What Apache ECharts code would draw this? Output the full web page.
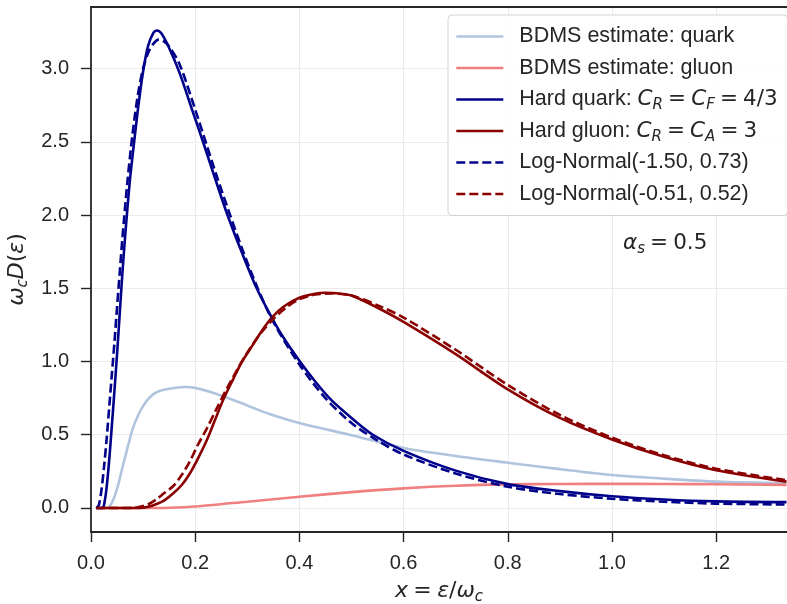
<!DOCTYPE html>
<html>
<head>
<meta charset="utf-8">
<script src="https://cdn.jsdelivr.net/npm/echarts@6/dist/echarts.min.js"></script>
<style>
html,body{margin:0;padding:0;background:#ffffff;}
#chart{width:787px;height:604px;}
</style>
</head>
<body>
<div id="chart"></div>
<script>
// ---- tick labels ----
const xTicks = [0, 0.2, 0.4, 0.6, 0.8, 1.0, 1.2];
const yTicks = [0, 0.5, 1.0, 1.5, 2.0, 2.5, 3.0];

// ---- series names ----
const seriesNames = [
  'BDMS estimate: quark',
  'BDMS estimate: gluon',
  'Hard quark: C_R = C_F = 4/3',
  'Hard gluon: C_R = C_A = 3',
  'Log-Normal(-1.50, 0.73)',
  'Log-Normal(-0.51, 0.52)'
];

// ---- BDMS estimate: quark ----
const bdmsQuarkX = [0.01,0.03,0.04,0.05,0.06,0.07,0.08,0.09,0.10,0.11,0.12,0.13,0.14,0.16,0.18,0.20,0.24,0.30,0.34,0.40,0.50,0.60,0.70,0.80,0.90,1.00,1.10,1.20,1.335];
const bdmsQuarkY = [0,0,0.035,0.13,0.27,0.41,0.54,0.63,0.695,0.745,0.777,0.797,0.807,0.819,0.826,0.82,0.78,0.70,0.645,0.58,0.497,0.41,0.355,0.309,0.265,0.225,0.20,0.18,0.168];

// ---- BDMS estimate: gluon ----
const bdmsGluonX = [0.01,0.10,0.15,0.20,0.30,0.40,0.50,0.60,0.70,0.80,0.90,1.00,1.10,1.20,1.335];
const bdmsGluonY = [0,0,0.002,0.01,0.043,0.077,0.108,0.134,0.152,0.161,0.164,0.165,0.164,0.162,0.158];

// ---- Hard quark ----
const hardQuarkX = [0.01,0.022,0.026,0.03,0.035,0.04,0.045,0.05,0.055,0.06,0.065,0.07,0.075,0.08,0.09,0.10,0.11,0.12,0.126,0.135,0.15,0.17,0.193,0.215,0.24,0.262,0.29,0.318,0.347,0.37,0.401,0.43,0.459,0.50,0.541,0.60,0.70,0.80,0.90,1.00,1.10,1.20,1.335];
const hardQuarkY = [0,0,0.04,0.14,0.33,0.56,0.80,1.05,1.32,1.59,1.83,2.05,2.25,2.41,2.72,2.98,3.16,3.245,3.26,3.24,3.14,2.97,2.73,2.50,2.23,2.00,1.74,1.50,1.30,1.16,1.00,0.865,0.745,0.615,0.50,0.39,0.255,0.163,0.115,0.08,0.058,0.045,0.04];

// ---- Hard gluon ----
const hardGluonX = [0.01,0.094,0.11,0.126,0.14,0.158,0.175,0.19,0.205,0.222,0.238,0.254,0.273,0.29,0.31,0.33,0.347,0.37,0.40,0.43,0.45,0.48,0.50,0.554,0.60,0.70,0.80,0.90,1.00,1.10,1.20,1.335];
const hardGluonY = [0,0,0.008,0.027,0.05,0.10,0.16,0.237,0.335,0.46,0.60,0.74,0.88,1.00,1.11,1.22,1.30,1.375,1.435,1.463,1.469,1.462,1.45,1.36,1.27,1.05,0.81,0.615,0.468,0.35,0.258,0.18];

// ---- Log-Normal(-1.50, 0.73) ----
const lnQuarkX = [0.01,0.015,0.02,0.025,0.03,0.035,0.04,0.045,0.05,0.055,0.06,0.07,0.08,0.09,0.10,0.11,0.12,0.13,0.14,0.15,0.17,0.20,0.22,0.24,0.265,0.29,0.32,0.35,0.40,0.45,0.50,0.55,0.60,0.70,0.80,0.90,1.00,1.10,1.20,1.335];
const lnQuarkY = [0,0.02,0.12,0.28,0.47,0.69,0.91,1.13,1.37,1.60,1.83,2.23,2.56,2.82,3.00,3.11,3.17,3.197,3.185,3.15,3.03,2.72,2.50,2.28,2.02,1.77,1.50,1.27,0.98,0.75,0.58,0.46,0.365,0.235,0.145,0.095,0.063,0.043,0.03,0.024];

// ---- Log-Normal(-0.51, 0.52) ----
const lnGluonX = [0.01,0.07,0.09,0.11,0.126,0.14,0.158,0.175,0.19,0.205,0.222,0.24,0.26,0.28,0.30,0.325,0.35,0.375,0.40,0.43,0.46,0.50,0.554,0.60,0.70,0.80,0.90,1.00,1.10,1.20,1.335];
const lnGluonY = [0,0,0.005,0.025,0.06,0.10,0.15,0.23,0.32,0.43,0.54,0.67,0.81,0.94,1.06,1.19,1.29,1.37,1.425,1.457,1.464,1.45,1.378,1.30,1.08,0.84,0.635,0.48,0.36,0.268,0.19];

function pairs(xs, ys) { return xs.map((x, i) => [x, ys[i]]); }

const TXT = '#262626';
const FS = 21.5;
const LH = 27;
function richStyles(fs) {
  return {
    t: {fontFamily: 'Liberation Sans', fontSize: fs, lineHeight: LH, color: TXT},
    m: {fontFamily: 'DejaVu Sans', fontStyle: 'italic', fontSize: fs, lineHeight: LH, color: TXT},
    e: {fontFamily: 'DejaVu Sans', fontSize: fs, lineHeight: LH, color: TXT},
    w: {fontFamily: 'DejaVu Sans', fontSize: Math.round(fs * 0.75), lineHeight: LH, color: TXT},
    s: {fontFamily: 'DejaVu Sans', fontStyle: 'italic', fontSize: Math.round(fs * 0.7), lineHeight: 13, verticalAlign: 'bottom', color: TXT}
  };
}
const EQ = '{w| }{e|=}{w| }';

const legendLabels = {};
legendLabels[seriesNames[0]] = '{t|BDMS estimate: quark}';
legendLabels[seriesNames[1]] = '{t|BDMS estimate: gluon}';
legendLabels[seriesNames[2]] = '{t|Hard quark: }{m|C}{s|R}' + EQ + '{m|C}{s|F}' + EQ + '{e|4/3}';
legendLabels[seriesNames[3]] = '{t|Hard gluon: }{m|C}{s|R}' + EQ + '{m|C}{s|A}' + EQ + '{e|3}';
legendLabels[seriesNames[4]] = '{t|Log-Normal(-1.50, 0.73)}';
legendLabels[seriesNames[5]] = '{t|Log-Normal(-0.51, 0.52)}';

const colors = ['#b0c4de', '#f08080', '#00008b', '#8b0000', '#00008b', '#8b0000'];
const dataSets = [
  pairs(bdmsQuarkX, bdmsQuarkY),
  pairs(bdmsGluonX, bdmsGluonY),
  pairs(hardQuarkX, hardQuarkY),
  pairs(hardGluonX, hardGluonY),
  pairs(lnQuarkX, lnQuarkY),
  pairs(lnGluonX, lnGluonY)
];
const dashed = [false, false, false, false, true, true];

const axisLineStyle = {color: TXT, width: 1.8};

const chart = echarts.init(document.getElementById('chart'), null, {renderer: 'canvas'});
chart.setOption({
  animation: false,
  backgroundColor: '#ffffff',
  grid: {left: 91, right: 0, top: 7, bottom: 72, containLabel: false, outerBoundsMode: 'none'},
  xAxis: [{
    type: 'value', min: 0, max: 1.336, interval: 0.2,
    position: 'bottom',
    axisLine: {show: true, onZero: false, lineStyle: axisLineStyle},
    axisTick: {show: true, length: 10, customValues: xTicks, lineStyle: {color: TXT, width: 1.4}},
    axisLabel: {customValues: xTicks, margin: 21, color: TXT, fontFamily: 'Liberation Sans', fontSize: 20,
      formatter: v => v.toFixed(1)},
    splitLine: {show: true, lineStyle: {color: '#ebebeb', width: 1}},
    name: '{m|x}' + EQ + '{m|ε}{e|/}{m|ω}{s|c}',
    nameLocation: 'middle', nameGap: 37,
    nameTextStyle: {lineHeight: LH, rich: richStyles(22)}
  }, {
    type: 'value', min: 0, max: 1.336, position: 'top',
    axisLine: {show: true, onZero: false, lineStyle: axisLineStyle},
    axisTick: {show: false}, axisLabel: {show: false}, splitLine: {show: false}
  }],
  yAxis: {
    type: 'value', min: -0.164, max: 3.42, splitNumber: 7,
    axisLine: {show: true, onZero: false, lineStyle: axisLineStyle},
    axisTick: {show: true, length: 10, customValues: yTicks, lineStyle: {color: TXT, width: 1.4}},
    axisLabel: {customValues: yTicks, margin: 22, color: TXT, fontFamily: 'Liberation Sans', fontSize: 20,
      formatter: v => v.toFixed(1)},
    splitLine: {show: true, lineStyle: {color: '#ebebeb', width: 1}},
    name: '{m|ω}{s|c}{m|D}{e|(}{m|ε}{e|)}',
    nameLocation: 'middle', nameGap: 53,
    nameTextStyle: {lineHeight: LH, rich: richStyles(22)}
  },
  legend: {
    orient: 'vertical', left: 448, top: 15,
    padding: [8, 10, 8, 7],
    itemWidth: 47, itemHeight: 14, itemGap: 4.5,
    backgroundColor: 'rgba(255,255,255,0.85)',
    borderColor: '#d3d3d3', borderWidth: 1, borderRadius: 4,
    itemStyle: {opacity: 0, borderWidth: 0},
    lineStyle: {width: 2.6},
    data: seriesNames,
    formatter: name => legendLabels[name],
    textStyle: {fontFamily: 'Liberation Sans', fontSize: FS, color: TXT, lineHeight: LH,
      padding: [0, 0, 0, 11], rich: richStyles(FS)}
  },
  graphic: [{
    type: 'text', left: 623, top: 232, z: 100,
    style: {text: '{m|α}{s|s}' + EQ + '{e|0.5}', rich: richStyles(21.5), fill: TXT}
  }],
  series: seriesNames.map((n, i) => ({
    name: n, type: 'line', data: dataSets[i],
    symbol: 'none', smooth: 0.3,
    clip: true,
    lineStyle: {color: colors[i], width: 2.6, type: dashed[i] ? [9, 4] : 'solid'},
    itemStyle: {color: colors[i]},
    z: 2 + i
  }))
});
</script>
</body>
</html>
